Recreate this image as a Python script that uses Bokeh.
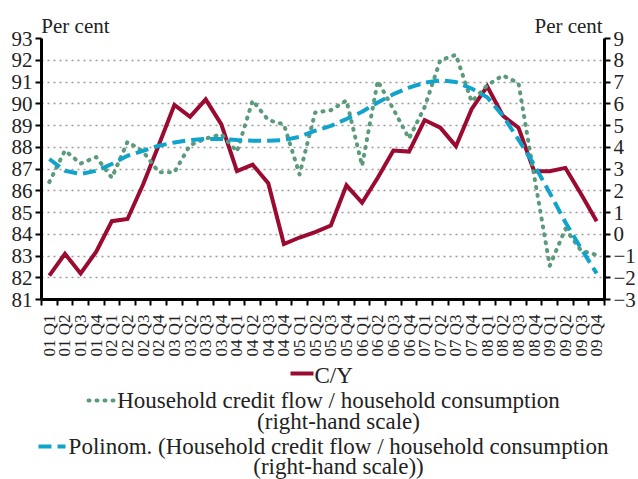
import math
from bokeh.plotting import figure
from bokeh.models import Range1d, LinearAxis, FixedTicker, Grid
from bokeh.layouts import column
from bokeh.embed import file_html
from bokeh.resources import INLINE
from bokeh.core.properties import value

# ---------------- data ----------------
quarters = ["01 Q1", "01 Q2", "01 Q3", "01 Q4", "02 Q1", "02 Q2", "02 Q3", "02 Q4",
            "03 Q1", "03 Q2", "03 Q3", "03 Q4", "04 Q1", "04 Q2", "04 Q3", "04 Q4",
            "05 Q1", "05 Q2", "05 Q3", "05 Q4", "06 Q1", "06 Q2", "06 Q3", "06 Q4",
            "07 Q1", "07 Q2", "07 Q3", "07 Q4", "08 Q1", "08 Q2", "08 Q3", "08 Q4",
            "09 Q1", "09 Q2", "09 Q3", "09 Q4"]

c_y = [82.1, 83.1, 82.2, 83.2, 84.6, 84.7, 86.3, 88.1,
       89.95, 89.4, 90.2, 89.05, 86.9, 87.2, 86.35, 83.55,
       83.85, 84.1, 84.4, 86.25, 85.45, 86.6, 87.85, 87.8,
       89.25, 88.9, 88.05, 89.75, 90.8, 89.45, 88.9, 86.9,
       86.9, 87.05, 85.85, 84.6]

credit_flow = [2.4, 3.85, 3.25, 3.55, 2.6, 4.25, 3.8, 2.85,
               2.85, 4.1, 4.4, 4.6, 3.8, 6.15, 5.25, 5.05,
               2.75, 5.6, 5.7, 6.15, 3.15, 7.05, 5.75, 4.4,
               5.85, 8.0, 8.25, 6.1, 6.85, 7.3, 6.95, 2.7,
               -1.45, 0.25, -0.75, -0.95]

poly_trend = [3.46, 2.92, 2.77, 2.92, 3.23, 3.61, 3.84, 4.07,
              4.22, 4.33, 4.38, 4.38, 4.33, 4.3, 4.3, 4.33,
              4.48, 4.76, 4.98, 5.3, 5.63, 6.06, 6.44, 6.74,
              6.97, 7.08, 7.0, 6.7, 6.3, 5.45, 4.35, 3.2,
              1.9, 0.55, -0.65, -1.8]

left_ticks = list(range(81, 94))
right_ticks = list(range(-3, 10))
unit_label = "Per cent"

legend_labels = ["C/Y",
                 "Household credit flow / household consumption",
                 "(right-hand scale)",
                 "Polinom. (Household credit flow / household consumption",
                 "(right-hand scale))"]

# ---------------- style ----------------
FONT = "Liberation Serif"
TXT = "#222222"
RED = "#9b0a30"
GREEN = "#5b9a7a"
BLUE = "#10a3cc"
W = 638
FL, FR = 41, 605          # frame edges in pixels

# ---------------- main chart ----------------
xs = list(range(1, len(quarters) + 1))
bounds = [i + 0.5 for i in range(0, len(quarters) + 1)]

p = figure(width=W, height=359, output_backend="svg", toolbar_location=None,
           x_range=Range1d(0.5, len(quarters) + 0.5), y_range=Range1d(81, 93),
           x_axis_type=None, y_axis_type=None,
           min_border_left=FL, min_border_right=W - FR, min_border_top=38,
           min_border_bottom=60, frame_align=False)
p.outline_line_color = None
p.extra_y_ranges = {"right": Range1d(-3, 9)}
p.extra_x_ranges = {"px": Range1d(FL, FR)}

grid = Grid(dimension=1, ticker=FixedTicker(ticks=left_ticks[1:]))
grid.grid_line_color = "#9a9a9a"
grid.grid_line_dash = "2 4"
grid.grid_line_width = 1.5
p.add_layout(grid)

xaxis = LinearAxis(ticker=FixedTicker(ticks=xs, minor_ticks=bounds))
xaxis.major_label_overrides = {x: q for x, q in zip(xs, quarters)}
xaxis.major_label_orientation = math.pi / 2
xaxis.major_tick_out = 0
xaxis.major_tick_in = 0
xaxis.major_tick_line_color = None
xaxis.minor_tick_out = 6
xaxis.minor_tick_in = 0
xaxis.minor_tick_line_width = 2
xaxis.minor_tick_line_color = "black"
xaxis.axis_line_width = 3
xaxis.major_label_standoff = 9
xaxis.major_label_text_font = FONT
xaxis.major_label_text_font_size = "17px"
xaxis.major_label_text_color = TXT
p.add_layout(xaxis, "below")

# unit captions above both value axes
unit_axis = LinearAxis(x_range_name="px", ticker=FixedTicker(ticks=[75, 569]))
unit_axis.major_label_overrides = {75: unit_label, 569: unit_label}
unit_axis.axis_line_color = None
unit_axis.major_tick_line_color = None
unit_axis.minor_tick_line_color = None
unit_axis.major_tick_out = 0
unit_axis.major_tick_in = 0
unit_axis.major_label_standoff = 1
unit_axis.major_label_text_font = FONT
unit_axis.major_label_text_font_size = "21px"
unit_axis.major_label_text_color = TXT
p.add_layout(unit_axis, "above")

laxis = LinearAxis(ticker=FixedTicker(ticks=left_ticks))
raxis = LinearAxis(y_range_name="right", ticker=FixedTicker(ticks=right_ticks))
raxis.major_label_overrides = {t: (str(t) if t >= 0 else "\u2212" + str(-t)) for t in right_ticks}
for ax in (laxis, raxis):
    ax.major_tick_out = 6
    ax.major_tick_in = 0
    ax.major_tick_line_width = 2
    ax.minor_tick_line_color = None
    ax.axis_line_width = 3
    ax.major_label_standoff = 3
    ax.major_label_text_font = FONT
    ax.major_label_text_font_size = "21px"
    ax.major_label_text_color = TXT
p.add_layout(laxis, "left")
p.add_layout(raxis, "right")

p.line(xs, c_y, color=RED, line_width=4, line_join="miter")
p.line(xs, credit_flow, y_range_name="right", color=GREEN, line_width=4,
       line_dash="1 7", line_cap="round", line_join="round")
p.line(xs, poly_trend, y_range_name="right", color=BLUE, line_width=4,
       line_dash="13 6", line_join="round")

# ---------------- legend (separate panel) ----------------
LH = 120
leg = figure(width=W, height=LH, output_backend="svg", toolbar_location=None,
             x_range=Range1d(0, W), y_range=Range1d(0, LH),
             x_axis_type=None, y_axis_type=None,
             min_border_left=0, min_border_right=0, min_border_top=0, min_border_bottom=0,
             frame_align=False)
leg.outline_line_color = None

leg.line([290, 313], [LH - 14, LH - 14], color=RED, line_width=4)
leg.line([88, 114], [LH - 41, LH - 41], color=GREEN, line_width=4, line_dash="1 7",
         line_cap="round")
leg.line([38, 65], [LH - 87, LH - 87], color=BLUE, line_width=4, line_dash="13 6")

leg.text(x=[314], y=[LH - 16.2], text=[legend_labels[0]], text_align="left",
         text_baseline="middle", text_font=value(FONT), text_font_size="23px",
         text_color=TXT)
leg.text(x=[338, 338, 338, 338], y=[LH - 41.2, LH - 62.2, LH - 87.2, LH - 106.5],
         text=legend_labels[1:], text_align="center", text_baseline="middle",
         text_font=value(FONT), text_font_size="23px", text_color=TXT)

layout = column(p, leg)
open("out.html", "w").write(file_html(layout, INLINE))
